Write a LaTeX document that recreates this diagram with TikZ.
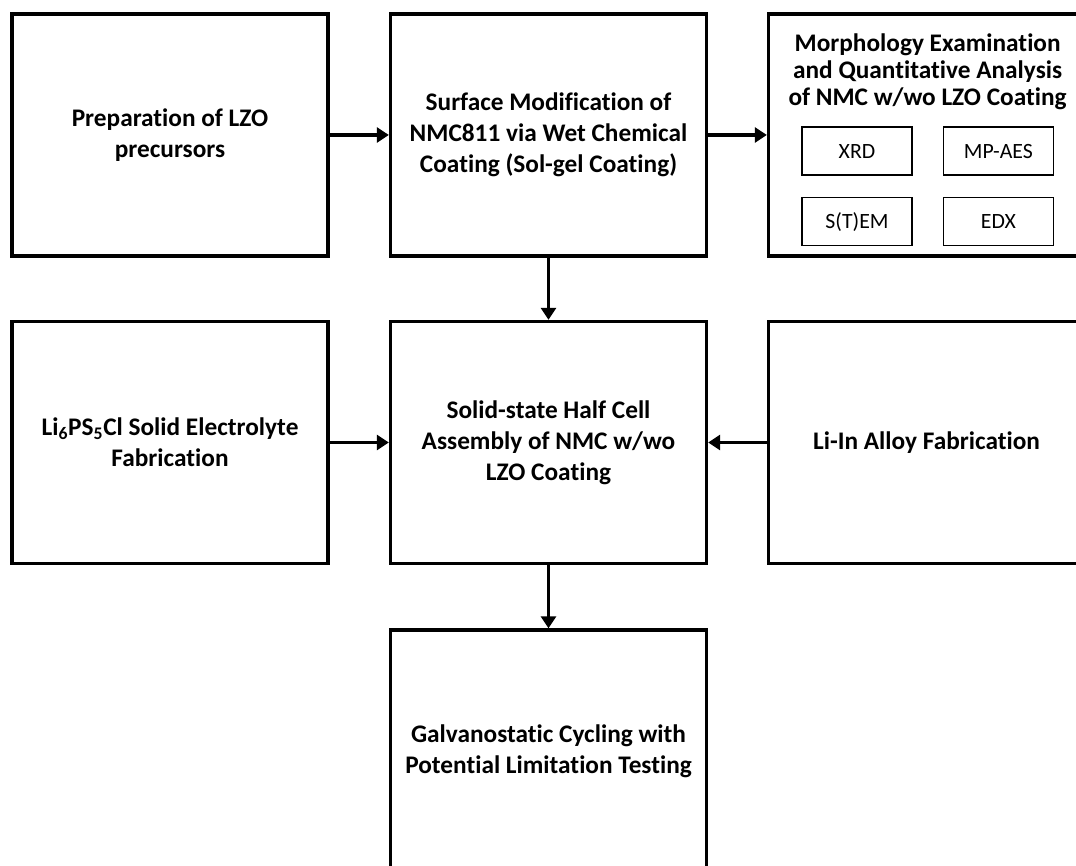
\documentclass[tikz,border=0pt]{standalone}
\usepackage{fontspec}
\setmainfont{Carlito}[Ligatures=NoCommon]
\usetikzlibrary{arrows.meta}

\begin{document}
\begin{tikzpicture}[
        box/.style={draw, line width=2.3pt, align=center, fill=white,
            minimum width=7.9cm, minimum height=6.05cm,
            font=\bfseries\fontsize{18}{22}\selectfont},
        test/.style={draw, line width=1.2pt, align=center,
            minimum width=2.75cm, minimum height=1.2cm,
            text height=2.2ex, text depth=0pt,
            font=\fontsize{15.5}{18}\selectfont},
        arr/.style={-{Triangle[length=8.5pt, width=10.5pt]}, line width=2.8pt, draw=black}
    ]
        \useasboundingbox (0,0) rectangle (26.9,21.65);

        % --- FILA SUPERIOR ---
        \node[box] (precursor) at (4.25, 18.275) {Preparation of LZO\\precursors};
        \node[box] (coating) at (13.7125, 18.275) {Surface Modification of\\NMC811 via Wet Chemical\\Coating (Sol-gel Coating)};
        \node[box] (morph) at (23.1625, 18.275) {};
        \node[font=\bfseries\fontsize{18}{19.2}\selectfont, align=center] (morphtitle) at (23.19, 19.85)
            {Morphology Examination\\and Quantitative Analysis\\of NMC w/wo LZO Coating};

        % Tecnicas de caracterizacion
        \node[test] (xrd) at (21.425, 17.875) {XRD};
        \node[test] (mpaes) at (24.96, 17.875) {MP-AES};
        \node[test] (stem) at (21.425, 16.1125) {S(T)EM};
        \node[test] (edx) at (24.96, 16.1125) {EDX};

        % --- FILA CENTRAL ---
        \node[box] (electrolyte) at (4.25, 10.5875) {Li\textsubscript{6}PS\textsubscript{5}Cl Solid Electrolyte\\Fabrication};
        \node[box] (halfcell) at (13.7125, 10.5875) {Solid-state Half Cell\\Assembly of NMC w/wo\\LZO Coating};
        \node[box] (alloy) at (23.1625, 10.5875) {Li-In Alloy Fabrication};

        % --- FILA INFERIOR ---
        \node[box] (cycling) at (13.7125, 2.875) {Galvanostatic Cycling with\\Potential Limitation Testing};

        % Conexiones
        \draw[arr] (precursor) -- (coating);
        \draw[arr] (coating) -- (morph);
        \draw[arr] (coating) -- (halfcell);
        \draw[arr] (electrolyte) -- (halfcell);
        \draw[arr] (alloy) -- (halfcell);
        \draw[arr] (halfcell) -- (cycling);
    \end{tikzpicture}
\end{document}
